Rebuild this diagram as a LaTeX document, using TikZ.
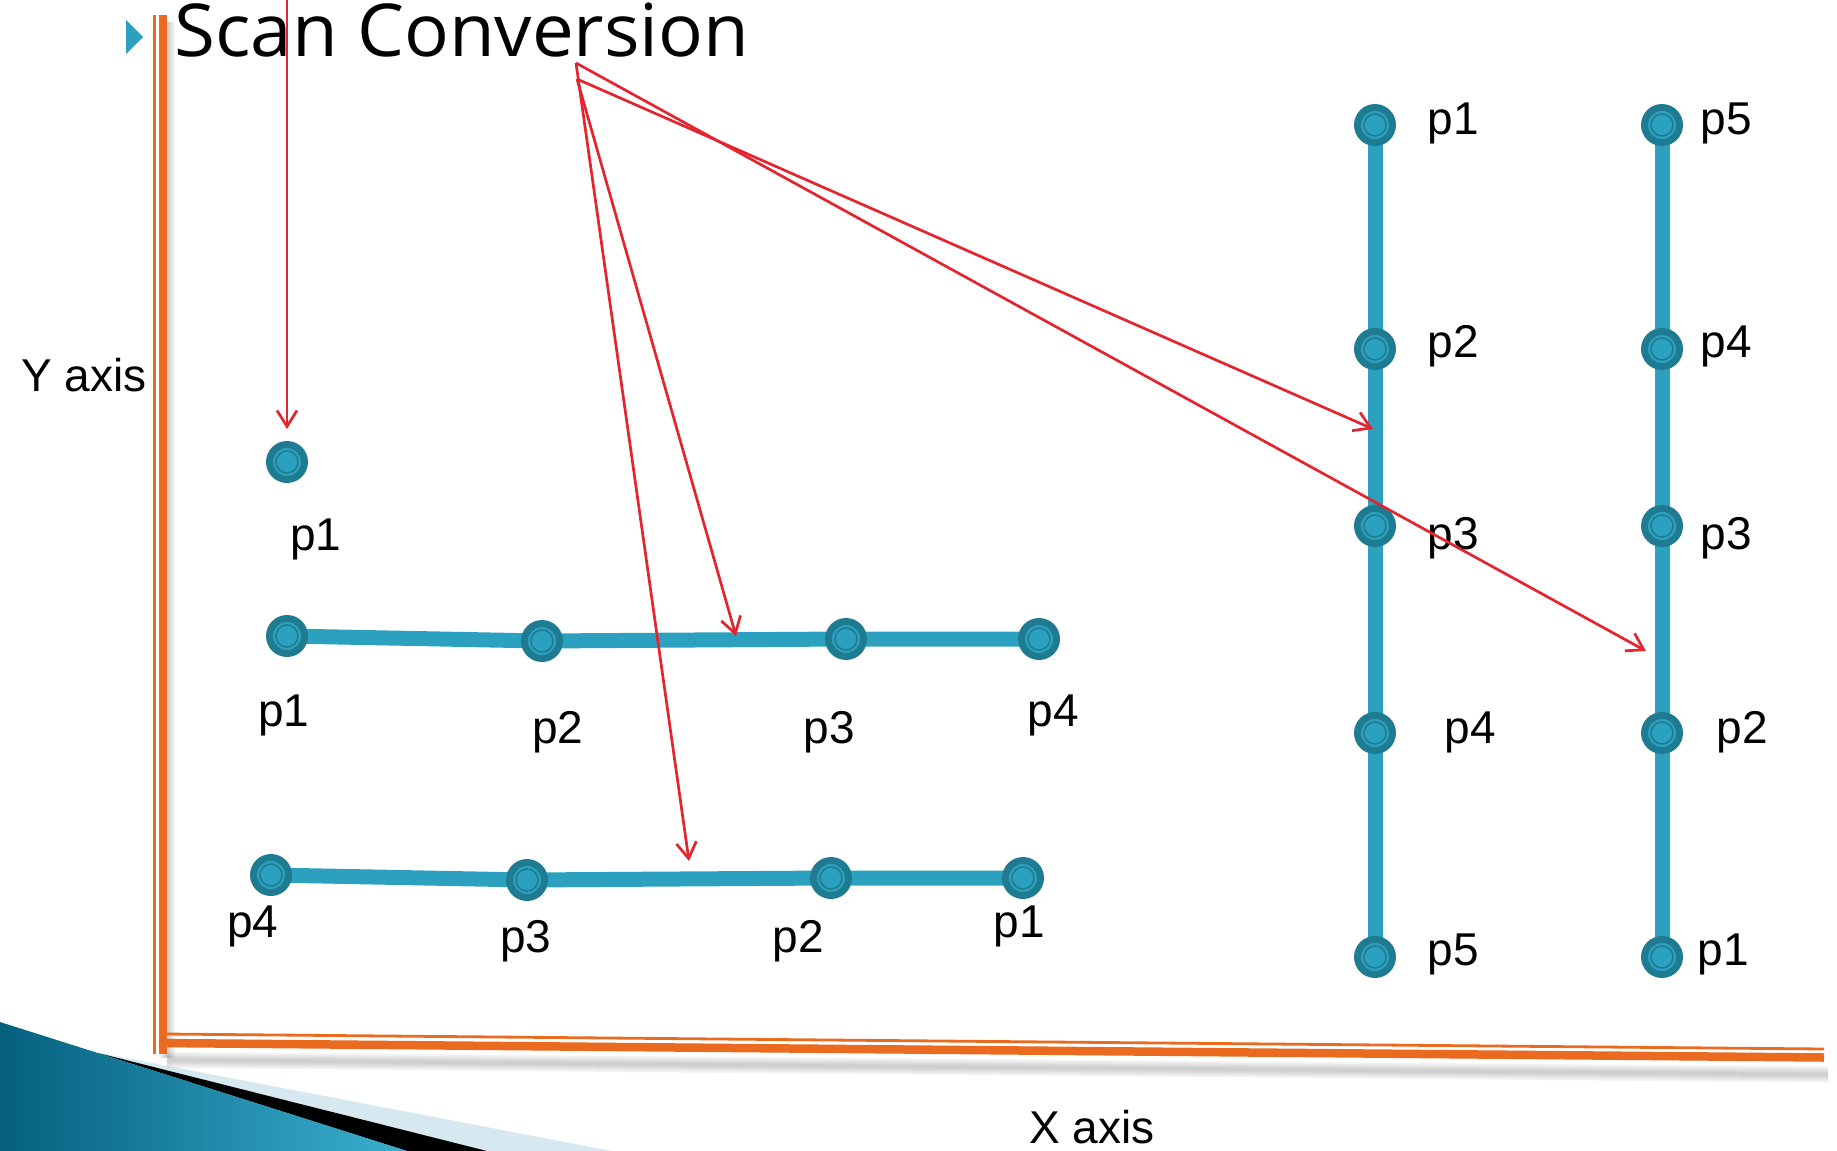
\documentclass[tikz,border=0pt]{standalone}
\usepackage{fontspec}
\setmainfont{Liberation Sans}
\newfontfamily\titlefont{Open Sans}
\usetikzlibrary{arrows.meta}
\pgfdeclarelayer{background}
\pgfsetlayers{background,main}

\definecolor{axisorange}{HTML}{EA6A20}
\definecolor{segteal}{HTML}{2BA1BF}
\definecolor{ptdark}{HTML}{1E7B91}
\definecolor{arrowred}{HTML}{E3262E}
\definecolor{wedgedark}{HTML}{05607E}
\definecolor{wedgelight}{HTML}{3AAFD0}
\definecolor{wedgepale}{HTML}{D6E9F0}

\tikzset{
  pt/.style={circle, fill=ptdark, inner sep=0pt, minimum size=21pt,
    path picture={
      \fill[segteal] (path picture bounding box.center) circle (7pt);
      \draw[ptdark, line width=0.75pt] (path picture bounding box.center) circle (5.5pt);}},
  lbl/.style={font=\fontsize{23}{26}\selectfont, inner sep=0pt},
  seg/.style={segteal, line width=7.5pt},
  ray/.style={arrowred, line width=1.35pt, -{Straight Barb[length=8pt,width=10pt]}},
  axisthin/.style={axisorange, line width=1.4pt},
  axisthick/.style={axisorange, line width=4.25pt},
  axisshadow/.style={black, opacity=0.05},
}

\begin{document}
\begin{tikzpicture}[x=0.5pt,y=-0.5pt]
            \useasboundingbox (0,0) rectangle (1837,1151);

            \begin{pgfonlayer}{background}
            % corner wedge
            \fill[wedgepale] (100,1053) -- (612,1151) -- (0,1151) -- cycle;
            \fill[black] (98,1053) -- (487,1151) -- (407,1151) -- cycle;
            \shade[left color=wedgedark, right color=wedgelight] (0,1022) -- (407,1151) -- (0,1151) -- cycle;

            % axes with a soft shadow
            \foreach \w in {2,4,6,8}{
              \draw[axisshadow, line width=\w pt] (167,22) -- (167,1058);
              \draw[axisshadow, line width=\w pt] (167,1060) -- (1828,1074.5);
            }
            \draw[axisthin] (154.5,15) -- (154.5,1054);
            \draw[axisthick] (163,15) -- (163,1054);
            \draw[axisthin] (165,1034) -- (1824,1049);
            \draw[axisthick] (159,1043) -- (1824,1057.5);
            \end{pgfonlayer}

            \fill[segteal] (126,20) -- (143,37) -- (126,54) -- cycle;
            \node[anchor=base west, inner sep=0pt, font=\titlefont\fontsize{36.5}{40}\selectfont] (title) at (174,56) {\scalebox{1.02}[1]{Scan Conversion}};

            \node[lbl] (yaxis) at (84,375) {Y axis};
            \node[lbl] (xaxis) at (1092,1127) {X axis};

            % a single point
            \node[pt] (s) at (287,462) {};
            \node[lbl] (ls) at (316,539) {p1};

            % horizontal rows
            \node[pt] (ra1) at (287,636) {};
            \node[pt] (ra2) at (542,641) {};
            \node[pt] (ra3) at (846,639) {};
            \node[pt] (ra4) at (1039,639) {};
            \node[lbl] (lra1) at (284,715) {p1};
            \node[lbl] (lra2) at (558,732) {p2};
            \node[lbl] (lra3) at (829,732) {p3};
            \node[lbl] (lra4) at (1053,715) {p4};

            \node[pt] (rb4) at (271,875) {};
            \node[pt] (rb3) at (527,880) {};
            \node[pt] (rb2) at (831,878) {};
            \node[pt] (rb1) at (1023,878) {};
            \node[lbl] (lrb4) at (253,926) {p4};
            \node[lbl] (lrb3) at (526,941) {p3};
            \node[lbl] (lrb2) at (798,941) {p2};
            \node[lbl] (lrb1) at (1019,926) {p1};

            % vertical columns
            \node[pt] (ca1) at (1375,125) {};
            \node[pt] (ca2) at (1375,349) {};
            \node[pt] (ca3) at (1375,526) {};
            \node[pt] (ca4) at (1375,733) {};
            \node[pt] (ca5) at (1375,957) {};
            \node[lbl] (lca1) at (1453,123) {p1};
            \node[lbl] (lca2) at (1453,346) {p2};
            \node[lbl] (lca3) at (1453,538) {p3};
            \node[lbl] (lca4) at (1470,732) {p4};
            \node[lbl] (lca5) at (1453,954) {p5};

            \node[pt] (cb5) at (1662,125) {};
            \node[pt] (cb4) at (1662,349) {};
            \node[pt] (cb3) at (1662,526) {};
            \node[pt] (cb2) at (1662,733) {};
            \node[pt] (cb1) at (1662,957) {};
            \node[lbl] (lcb5) at (1726,123) {p5};
            \node[lbl] (lcb4) at (1726,346) {p4};
            \node[lbl] (lcb3) at (1726,538) {p3};
            \node[lbl] (lcb2) at (1742,732) {p2};
            \node[lbl] (lcb1) at (1723,954) {p1};

            \begin{pgfonlayer}{background}
            \draw[seg] (ra1.center) -- (ra2.center) -- (ra3.center) -- (ra4.center);
            \draw[seg] (rb4.center) -- (rb3.center) -- (rb2.center) -- (rb1.center);
            \draw[seg] (ca1.center) -- (ca5.center);
            \draw[seg] (cb5.center) -- (cb1.center);
            \end{pgfonlayer}

            % red pointers
            \coordinate (top) at (287,0);
            \coordinate (fa) at (576,63);
            \coordinate (fb) at (577,79);
            \coordinate (hs) at (287,429);
            \coordinate (ha) at (736,636);
            \coordinate (hb) at (689,861);
            \coordinate (hc) at (1373,429);
            \coordinate (hd) at (1646,651);

            \draw[ray] (top) -- (hs);
            \draw[ray] (fb) -- (ha);
            \draw[ray] (fa) -- (hb);
            \draw[ray] (fb) -- (hc);
            \draw[ray] (fa) -- (hd);
\end{tikzpicture}
\end{document}
